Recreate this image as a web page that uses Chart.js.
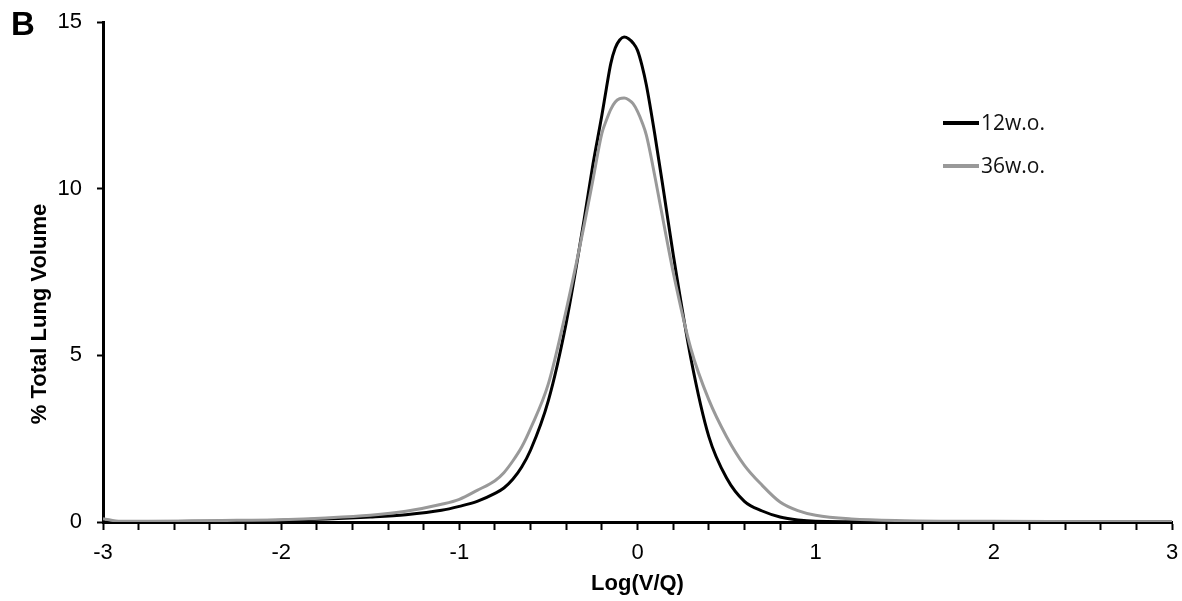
<!DOCTYPE html>
<html>
<head>
<meta charset="utf-8">
<script src="https://cdn.jsdelivr.net/npm/chart.js@4/dist/chart.umd.min.js"></script>
<style>
  html, body { margin: 0; padding: 0; background: #fff; }
  #wrap { width: 1182px; height: 601px; }
</style>
</head>
<body>
<div id="wrap"><canvas id="vqChart" width="1182" height="601"></canvas></div>
<script>
  // Log(V/Q) sample points and % total lung volume for each group
  const logVQ = [-3, -2.9, -2.75, -2.5, -2.25, -2, -1.75, -1.5, -1.3, -1.1, -1.0, -0.9, -0.8, -0.75, -0.7, -0.65, -0.6, -0.5, -0.4, -0.3, -0.25, -0.2, -0.175, -0.15, -0.125, -0.1, -0.075, -0.05, -0.025, 0, 0.025, 0.05, 0.1, 0.15, 0.2, 0.3, 0.4, 0.5, 0.6, 0.7, 0.8, 0.9, 1.0, 1.2, 1.5, 2, 2.5, 3];
  const w12 = [0, 0.01, 0.01, 0.02, 0.03, 0.05, 0.09, 0.15, 0.22, 0.35, 0.47, 0.62, 0.86, 1.02, 1.28, 1.65, 2.16, 3.65, 5.98, 9.06, 10.73, 12.2, 13.0, 13.75, 14.22, 14.46, 14.55, 14.5, 14.37, 14.15, 13.7, 13.1, 11.53, 9.8, 8.04, 4.9, 2.57, 1.32, 0.62, 0.33, 0.15, 0.06, 0.02, 0.01, 0, 0, 0, 0];
  const w36 = [0.1, 0.02, 0.02, 0.03, 0.05, 0.07, 0.12, 0.2, 0.32, 0.53, 0.68, 0.95, 1.24, 1.48, 1.83, 2.25, 2.81, 4.15, 6.36, 8.89, 10.27, 11.66, 12.05, 12.38, 12.6, 12.7, 12.72, 12.67, 12.55, 12.32, 12.0, 11.6, 10.3, 8.88, 7.5, 5.19, 3.67, 2.56, 1.7, 1.1, 0.6, 0.34, 0.2, 0.09, 0.04, 0.02, 0.01, 0];
  const seriesNames = ['12w.o.', '36w.o.'];
  const seriesColors = ['#000000', '#999999'];
  const xLabels = [-3, -2, -1, 0, 1, 2, 3];
  const yTicks = [0, 5, 10, 15];

  const toPoints = (ys) => ys.map((y, i) => ({ x: logVQ[i], y: y }));

  Chart.defaults.font.family = '"Liberation Sans", Arial, sans-serif';
  Chart.defaults.color = '#000';

  // panel letter, y title, legend drawn by hand so they can sit where the figure has them
  const extras = {
    id: 'extras',
    afterDraw(chart) {
      const ctx = chart.ctx;
      ctx.save();
      ctx.fillStyle = '#000';
      ctx.font = 'bold 33px "Liberation Sans", Arial, sans-serif';
      ctx.textAlign = 'left';
      ctx.textBaseline = 'alphabetic';
      ctx.fillText('B', 11, 35);

      ctx.translate(40, 314);
      ctx.rotate(-Math.PI / 2);
      ctx.font = 'bold 22px "Liberation Sans", Arial, sans-serif';
      ctx.textAlign = 'center';
      ctx.textBaseline = 'middle';
      ctx.fillText('% Total Lung Volume', 0, 0);
      ctx.restore();

      ctx.save();
      chart.data.datasets.forEach((ds, i) => {
        const y = 123 + i * 43;
        ctx.strokeStyle = ds.borderColor;
        ctx.lineWidth = 4;
        ctx.beginPath();
        ctx.moveTo(943, y);
        ctx.lineTo(979, y);
        ctx.stroke();
        ctx.fillStyle = '#111';
        ctx.font = '21px "Open Sans", sans-serif';
        ctx.textAlign = 'left';
        ctx.textBaseline = 'middle';
        ctx.fillText(ds.label, 981, y + 1);
      });
      ctx.restore();
    }
  };

  new Chart(document.getElementById('vqChart'), {
    type: 'line',
    data: {
      datasets: [
        { label: seriesNames[0], data: toPoints(w12), borderColor: seriesColors[0], borderWidth: 3, pointRadius: 0, cubicInterpolationMode: 'monotone', order: 2 },
        { label: seriesNames[1], data: toPoints(w36), borderColor: seriesColors[1], borderWidth: 3, pointRadius: 0, cubicInterpolationMode: 'monotone', order: 1 }
      ]
    },
    options: {
      responsive: false,
      animation: false,
      layout: { padding: { top: 22, right: 10, left: 0, bottom: 0 } },
      plugins: { legend: { display: false }, tooltip: { enabled: false } },
      scales: {
        x: {
          type: 'linear', min: -3, max: 3,
          afterFit: (s) => { s.height = 79; s.paddingLeft = 0; s.paddingRight = 0; },
          border: { display: true, color: '#000', width: 3 },
          grid: { drawOnChartArea: false, drawTicks: true, tickLength: 8, tickColor: '#000', tickWidth: 2 },
          ticks: {
            stepSize: 0.2, maxTicksLimit: 40, autoSkip: false, maxRotation: 0, padding: 10,
            font: { size: 22 },
            callback: (v) => {
              const r = Math.round(v);
              return (Math.abs(v - r) < 1e-6 && xLabels.includes(r)) ? String(r) : '';
            }
          },
          title: { display: true, text: 'Log(V/Q)', font: { size: 22, weight: 'bold' }, padding: { top: 0, bottom: 4 } }
        },
        y: {
          min: 0, max: 15,
          afterFit: (s) => { s.width = 103; s.paddingTop = 0; s.paddingBottom = 0; },
          afterBuildTicks: (s) => { s.ticks = yTicks.map(v => ({ value: v })); },
          border: { display: true, color: '#000', width: 3 },
          grid: { drawOnChartArea: false, drawTicks: true, tickLength: 6, tickColor: '#000', tickWidth: 2 },
          ticks: { padding: 15, font: { size: 22 } }
        }
      }
    },
    plugins: [extras]
  });
</script>
</body>
</html>
